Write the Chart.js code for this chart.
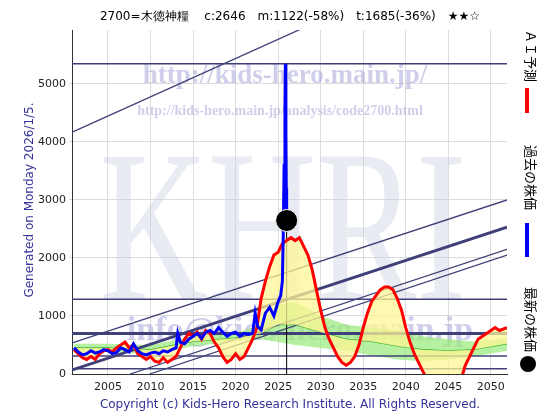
<!DOCTYPE html><html><head><meta charset="utf-8">
<script src="https://cdn.jsdelivr.net/npm/chart.js@4"></script>
<style>body{margin:0;background:#fff}</style></head><body>
<canvas id="c" width="560" height="420"></canvas>
<script>
const pastYears=[2001,2001.5,2002,2002.5,2003,2003.5,2004,2004.5,2005,2005.5,2006,2006.5,2007,2007.5,2008,2008.5,2009,2009.5,2010,2010.5,2011,2011.5,2012,2012.5,2013,2013.2,2013.5,2014,2014.5,2015,2015.5,2016,2016.5,2017,2017.5,2018,2018.5,2019,2019.5,2020,2020.5,2021,2021.5,2022,2022.3,2022.6,2023,2023.5,2024,2024.5,2025,2025.3,2025.5,2025.6,2025.7,2025.8,2025.85,2025.9,2025.95,2026.0];
const pastPrice=[450,380,330,350,400,360,380,420,400,350,370,450,420,380,520,400,350,330,360,380,350,400,380,420,450,700,550,520,600,650,700,620,720,750,700,800,720,650,700,720,650,700,680,700,1050,820,760,1050,1150,1000,1250,1350,1600,2400,3600,4600,5350,4200,3200,2646];
const aiYears=[2001,2001.5,2002,2002.5,2003,2003.5,2004,2004.5,2005,2005.5,2006,2006.5,2007,2007.5,2008,2008.5,2009,2009.5,2010,2010.5,2011,2011.5,2012,2012.5,2013,2013.5,2014,2014.5,2015,2015.5,2016,2016.5,2017,2017.5,2018,2018.5,2019,2019.5,2020,2020.5,2021,2021.5,2022,2022.5,2023,2023.5,2024,2024.5,2025,2025.5,2026,2026.5,2027,2027.5,2028,2028.5,2029,2029.5,2030,2030.5,2031,2031.5,2032,2032.5,2033,2033.5,2034,2034.5,2035,2035.5,2036,2036.5,2037,2037.5,2038,2038.5,2039,2039.5,2040,2040.5,2041,2041.5,2042,2042.5,2043,2043.5,2044,2045,2046,2046.5,2047,2047.5,2048,2048.5,2049,2049.5,2050,2050.5,2051,2051.9];
const aiPrice=[420,350,280,250,300,250,350,400,420,380,450,500,550,450,500,350,300,250,300,220,200,280,200,250,300,450,600,700,650,720,600,750,700,550,450,300,200,250,350,250,300,450,600,800,1300,1600,1850,2050,2100,2250,2300,2350,2300,2350,2200,2050,1800,1450,1100,800,600,450,300,200,150,200,300,500,800,1050,1250,1350,1450,1500,1500,1450,1300,1100,800,550,350,200,50,-100,-300,-500,-600,-600,-400,-100,150,300,450,600,650,700,750,800,750,800];
const bandYears=[2001,2005,2010,2015,2020,2023,2025,2027,2030,2033,2036,2039,2042,2045,2048,2051.9];
const bandMid=[450,450,420,560,620,700,850,850,720,600,560,480,420,400,420,520];
const bandHigh=[520,520,500,650,700,850,1200,1250,1000,850,800,750,650,600,560,620];
const bandLow=[380,380,340,480,560,600,550,500,450,400,320,250,220,250,300,400];
const hLines=[5350,1290,700,310,90];
const trendLines=[[2000.8,4170,2030,6100],[2000.8,535,2051.9,3000],[2000.8,70,2051.9,2530],[2007.6,0,2051.9,2150],[2009.9,0,2051.9,2050]];
const lastYear=2026.0, lastPrice=2646, peakPrice=5350;
const xTicks=[2005,2010,2015,2020,2025,2030,2035,2040,2045,2050];
const yTicks=[0,1000,2000,3000,4000,5000];
const pts=(xs,ys)=>xs.map((x,i)=>({x,y:ys[i]}));
const ds=[];
ds.push({data:pts(bandYears,bandHigh),borderWidth:0,pointRadius:0,backgroundColor:'rgba(150,235,120,0.7)',fill:'+1',order:9});
ds.push({data:pts(bandYears,bandLow),borderWidth:0,pointRadius:0,fill:false,order:9});
ds.push({data:pts(bandYears,bandMid),borderColor:'#22aa22',borderWidth:1,pointRadius:0,fill:false,order:8});
hLines.forEach((v,i)=>ds.push({data:[{x:2000,y:v},{x:2053,y:v}],borderColor:'#404078',borderWidth:i==2?3:1.5,pointRadius:0,order:5}));
trendLines.forEach((t,i)=>ds.push({data:[{x:t[0],y:t[1]},{x:t[2],y:t[3]}],borderColor:'#404078',borderWidth:i==2?3:1.3,pointRadius:0,order:5}));
ds.push({data:[{x:lastYear,y:0},{x:lastYear,y:peakPrice}],borderColor:'#000',borderWidth:1,pointRadius:0,order:4});
ds.push({data:pts(aiYears,aiPrice),borderColor:'#ff0000',borderWidth:3,pointRadius:0,order:2,fill:{target:2,above:'rgba(255,245,150,0.75)',below:'rgba(255,245,150,0.75)'}});
ds.push({data:pts(pastYears,pastPrice),borderColor:'#0000ff',borderWidth:3,pointRadius:0,order:1});
ds.push({data:[{x:lastYear,y:lastPrice}],pointRadius:11,backgroundColor:'#000',borderColor:'#fff',borderWidth:1,showLine:false,order:0});
const deco={id:'deco',
beforeDatasetsDraw(c){const g=c.ctx,a=c.chartArea;g.save();
 g.beginPath();g.rect(a.left,a.top,a.right-a.left,a.bottom-a.top);g.clip();
 g.fillStyle='rgba(200,205,225,0.4)';g.font='150px "Liberation Serif"';g.textAlign='center';
 g.save();g.translate(283,300);g.scale(1,1.45);g.fillText('KHRI',0,0);g.restore();
 g.fillStyle='rgba(160,160,215,0.5)';g.font='bold 27px "Liberation Serif"';g.fillText('http://kids-hero.main.jp/',285,83);
 g.font='bold 14px "Liberation Serif"';g.fillText('http://kids-hero.main.jp/analysis/code2700.html',280,115);
 g.font='bold 34px "Liberation Serif"';g.fillText('info@kids-hero.main.jp',300,340);
 g.restore();},
afterDraw(c){const g=c.ctx;g.save();
 g.fillStyle='#000';g.font='12px "DejaVu Sans"';g.textAlign='center';
 g.fillText('2700=木徳神糧　 c:2646　m:1122(-58%)　t:1685(-36%)　★★☆',290,20);
 g.fillStyle='#333399';g.font='12px "DejaVu Sans"';g.fillText('Copyright (c) Kids-Hero Research Institute. All Rights Reserved.',290,408);
 g.save();g.translate(30,200);g.rotate(-Math.PI/2);g.textBaseline='middle';g.fillText('Generated on Monday 2026/1/5.',0,0);g.restore();
 const vt=(txt,y)=>{g.save();g.translate(531,y);g.rotate(Math.PI/2);g.fillStyle='#000';g.font='13px "Noto Sans CJK JP"';g.textAlign='left';g.textBaseline='middle';g.fillText(txt,0,0);g.restore();};
 g.fillStyle='#ff0000';g.fillRect(525,88,4,25);vt('ＡＩ予測',30);
 g.fillStyle='#0000ff';g.fillRect(525,223,4,34);vt('過去の株価',145);
 vt('最新の株価',287);
 g.fillStyle='#000';g.beginPath();g.arc(528,364,8,0,7);g.fill();
 g.restore();}};
new Chart(document.getElementById('c'),{type:'line',data:{datasets:ds},
options:{responsive:false,animation:false,
layout:{padding:{left:28,right:53,top:30,bottom:26}},
plugins:{legend:{display:false},tooltip:{enabled:false}},
scales:{x:{type:'linear',min:2000.77,max:2051.9,afterBuildTicks:s=>{s.ticks=xTicks.map(v=>({value:v}))},afterFit:s=>{s.height=20},
 ticks:{color:'#222',font:{size:11,family:'DejaVu Sans'},maxRotation:0,padding:4,callback:v=>String(v)},grid:{color:'#ddd',tickLength:3},border:{color:'#333'}},
 y:{min:0,max:5930,afterBuildTicks:s=>{s.ticks=yTicks.map(v=>({value:v}))},afterFit:s=>{s.width=44},
 ticks:{color:'#222',font:{size:11,family:'DejaVu Sans'},padding:3,callback:v=>String(v)},grid:{color:'#ddd',tickLength:3},border:{color:'#333'}}}},
plugins:[deco]});
</script></body></html>
